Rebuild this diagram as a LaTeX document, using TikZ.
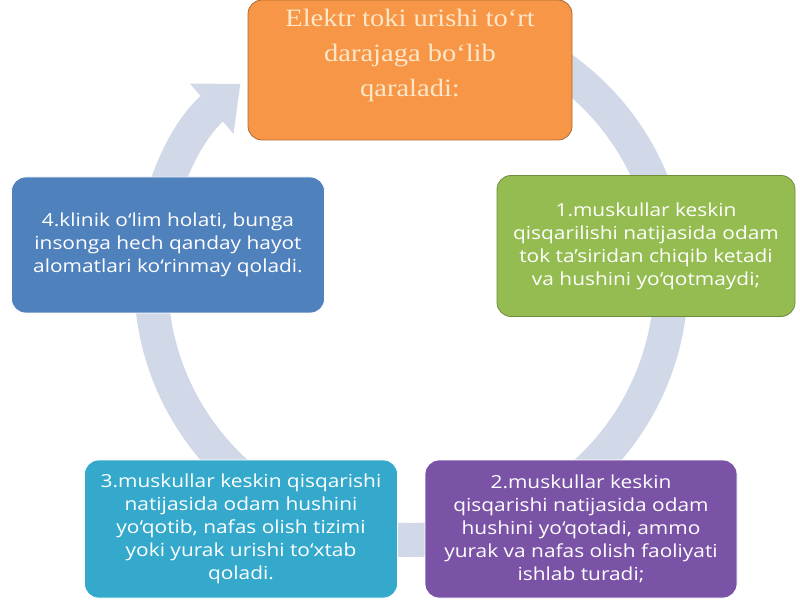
\documentclass[tikz,border=0pt]{standalone}
\usepackage{fontspec}
\usepackage{tikz}
\usetikzlibrary{arrows.meta}

\newfontfamily\stagefont[FakeStretch=1.16]{Open Sans}
\newfontfamily\titlefont[FakeStretch=1.14]{Liberation Serif}

\definecolor{ringgray}{HTML}{D1D9E8}
\definecolor{stageorange}{HTML}{F79646}
\definecolor{stagegreen}{HTML}{94BC50}
\definecolor{stageblue}{HTML}{4F81BD}
\definecolor{stageteal}{HTML}{34A9CC}
\definecolor{stagepurple}{HTML}{7A52A6}
\definecolor{titlecream}{HTML}{FCE8C9}

\tikzset{
  stagebox/.style={rounded corners=14pt, draw=white, line width=0.8pt, text=white,
    align=center, inner sep=0pt, font=\stagefont\fontsize{18}{23}\selectfont},
}

\begin{document}
\begin{tikzpicture}[x=1pt, y=1pt]
        \useasboundingbox (0,0) rectangle (800,600);

        % Cycle arrow behind the stages
        \draw[ringgray, line width=34pt, -{Triangle[width=64pt, length=38pt]}]
            (411,320) ++(95:260) arc[start angle=95, end angle=-229, radius=260];

        % Title
        \node[stagebox, fill=stageorange, draw=stageorange!70!black, minimum width=324pt, minimum height=140pt] (title) at (410,530) {};
        \node[anchor=north, text=titlecream, align=center, font=\titlefont\fontsize{25}{35}\selectfont] (titletext) at ([yshift=-6pt]title.north)
            {Elektr toki urishi to‘rt\\darajaga bo‘lib\\qaraladi:};

        % Stages
        \node[stagebox, fill=stagegreen, draw=stagegreen!75!black, minimum width=298pt, minimum height=141pt] (stage1) at (646,354)
            {1.muskullar keskin\\qisqarilishi natijasida odam\\tok ta’siridan chiqib ketadi\\va hushini yo‘qotmaydi;};
        \node[stagebox, fill=stagepurple, minimum width=312pt, minimum height=138pt] (stage2) at (581,71)
            {2.muskullar keskin\\qisqarishi natijasida odam\\hushini yo‘qotadi, ammo\\yurak va nafas olish faoliyati\\ishlab turadi;};
        \node[stagebox, fill=stageteal, minimum width=313pt, minimum height=138pt] (stage3) at (241,71)
            {3.muskullar keskin qisqarishi\\natijasida odam hushini\\yo‘qotib, nafas olish tizimi\\yoki yurak urishi to‘xtab\\qoladi.};
        \node[stagebox, fill=stageblue, minimum width=313pt, minimum height=136pt] (stage4) at (168,355)
            {4.klinik o‘lim holati, bunga\\insonga hech qanday hayot\\alomatlari ko‘rinmay qoladi.};
    \end{tikzpicture}
\end{document}
